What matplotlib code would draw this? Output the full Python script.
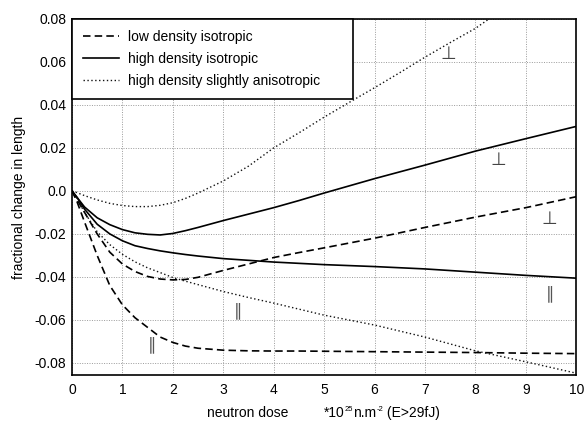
import matplotlib.pyplot as plt

plt.rcParams["font.family"] = ["Liberation Sans", "DejaVu Sans"]

# dose values (10^25 n/m^2)
dose = [0, 0.1, 0.25, 0.5, 0.75, 1, 1.25, 1.5, 1.75, 2, 2.25, 2.5, 3, 3.5, 4, 4.5, 5, 6, 7, 8, 9, 10]

# low density isotropic (dashed)
low_perp = [0, -0.004, -0.010, -0.020, -0.0285, -0.034, -0.0375, -0.0398, -0.041, -0.0414, -0.0412,
            -0.0402, -0.037, -0.034, -0.031, -0.0287, -0.0265, -0.022, -0.017, -0.0122, -0.0078, -0.0027]
low_par = [0, -0.005, -0.0145, -0.030, -0.044, -0.053, -0.059, -0.0635, -0.068, -0.0705, -0.0722,
           -0.0732, -0.0741, -0.0744, -0.0745, -0.0745, -0.0746, -0.0748, -0.075, -0.0752, -0.0755, -0.0757]

# high density isotropic (solid)
high_perp = [0, -0.003, -0.0075, -0.0125, -0.0157, -0.018, -0.0195, -0.0202, -0.0205, -0.0198, -0.0185,
             -0.017, -0.0138, -0.0108, -0.0078, -0.0045, -0.001, 0.0057, 0.012, 0.0185, 0.0243, 0.030]
high_par = [0, -0.003, -0.0085, -0.0155, -0.020, -0.0232, -0.0255, -0.0268, -0.0279, -0.0288, -0.0296,
            -0.0303, -0.0315, -0.0323, -0.0331, -0.0337, -0.0343, -0.0352, -0.0363, -0.0378, -0.0393, -0.0406]

# high density slightly anisotropic (dotted); the perp curve leaves the plot near 8.3
aniso_dose = [0, 0.1, 0.25, 0.5, 0.75, 1, 1.25, 1.5, 1.75, 2, 2.25, 2.5, 3, 3.5, 4, 4.5, 5, 5.5, 6,
              6.5, 7, 7.5, 8, 8.3]
aniso_perp = [0, -0.0008, -0.0022, -0.0042, -0.0058, -0.0068, -0.0073, -0.0073, -0.0067, -0.0055,
              -0.0035, -0.001, 0.0046, 0.0115, 0.020, 0.027, 0.0343, 0.0412, 0.048, 0.055, 0.0622,
              0.069, 0.0756, 0.0805]
aniso_par = [0, -0.0035, -0.010, -0.019, -0.025, -0.0295, -0.033, -0.0358, -0.038, -0.0403, -0.042,
             -0.0436, -0.0468, -0.0496, -0.0522, -0.055, -0.0578, -0.0624, -0.068, -0.0744, -0.0795, -0.0848]

perp_labels = [(7.47, 0.0638), (8.45, 0.0143), (9.47, -0.0133)]
par_labels = [(9.47, -0.0476), (3.29, -0.0553), (1.58, -0.0714)]

yticks = [0.08, 0.06, 0.04, 0.02, 0.0, -0.02, -0.04, -0.06, -0.08]
ytick_labels = ["0.08", "0.06", "0.04", "0.02", "0.0", "-0.02", "-0.04", "-0.06", "-0.08"]
xticks = list(range(0, 11))

fig = plt.figure(figsize=(5.85, 4.21), dpi=100)
ax = fig.add_axes([0.123, 0.109, 0.862, 0.846])

dash = (0, (4.5, 2.5))
dot = (0, (1, 1.8))
ax.plot(dose, low_perp, color="black", lw=1.2, ls=dash, label="low density isotropic")
ax.plot(dose, high_perp, color="black", lw=1.2, ls="-", label="high density isotropic")
ax.plot(aniso_dose, aniso_perp, color="#111111", lw=1.0, ls=dot, label="high density slightly anisotropic")
ax.plot(dose, low_par, color="black", lw=1.2, ls=dash)
ax.plot(dose, high_par, color="black", lw=1.2, ls="-")
ax.plot(dose, aniso_par, color="#111111", lw=1.0, ls=dot)

for x, y in perp_labels:
    ax.text(x, y, "\u22a5", ha="center", va="center", fontsize=13, color="#444444",
            family=["DejaVu Sans"])
for x, y in par_labels:
    ax.text(x, y, "\u2225", ha="center", va="center", fontsize=12, color="#555555",
            family=["DejaVu Sans"])

ax.set_xlim(0, 10)
ax.set_ylim(-0.0857, 0.08)
ax.set_xticks(xticks)
ax.set_yticks(yticks)
ax.set_yticklabels(ytick_labels)
ax.tick_params(length=0, labelsize=10)
ax.tick_params(axis="x", pad=6)
ax.tick_params(axis="y", pad=4)
ax.grid(True, color="#9a9a9a", ls=(0, (1, 1.5)), lw=0.7)
for s in ax.spines.values():
    s.set_linewidth(1.2)

ax.set_ylabel("fractional change in length", fontsize=10, labelpad=6)
ax.text(0.349, -0.107, "neutron dose", transform=ax.transAxes, ha="center", va="center", fontsize=10)

# unit label with small superscripts, pieces chained one after another
t1 = ax.text(0.5, -0.107, "*10", transform=ax.transAxes, ha="left", va="center", fontsize=10)
t2 = ax.annotate("25", xy=(1, 0.78), xycoords=(t1, t1), ha="left", va="center", fontsize=5.5)
t3 = ax.annotate("n.m", xy=(1, 0.5), xycoords=(t2, t1), ha="left", va="center", fontsize=10)
t4 = ax.annotate("-2", xy=(1, 0.78), xycoords=(t3, t1), ha="left", va="center", fontsize=5.5)
ax.annotate(" (E>29fJ)", xy=(1, 0.5), xycoords=(t4, t1), ha="left", va="center", fontsize=10)

leg = ax.legend(loc="upper left", bbox_to_anchor=(0, 0, 0.557, 1), mode="expand",
                fancybox=False, framealpha=1, edgecolor="black", fontsize=10,
                borderaxespad=0, borderpad=0.8, labelspacing=0.56,
                handlelength=2.6, handletextpad=0.6)
leg.get_frame().set_linewidth(1.2)

fig.savefig("out.png", dpi=100)
